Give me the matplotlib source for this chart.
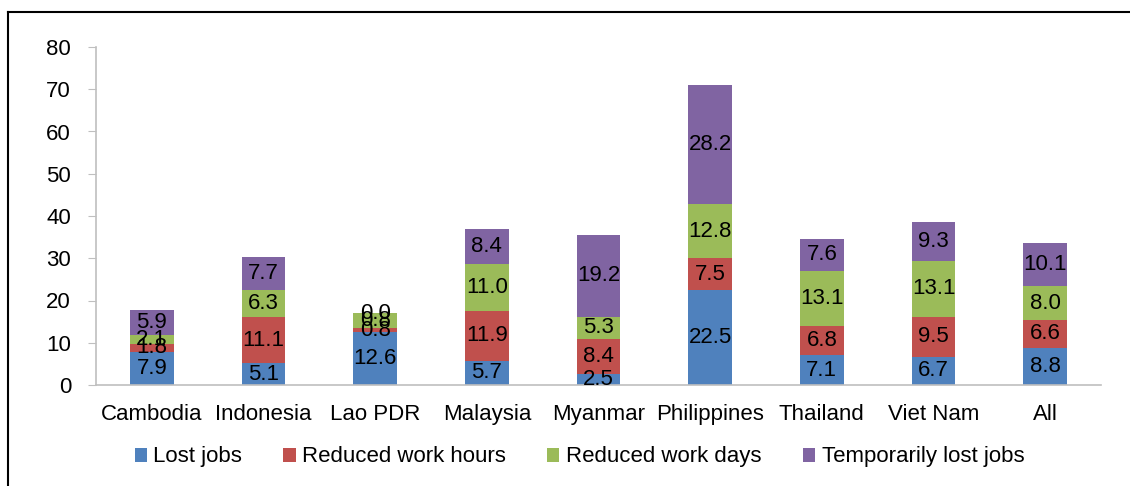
import numpy as np
import matplotlib.pyplot as plt
from matplotlib.lines import Line2D

plt.rcParams['font.family'] = ['Liberation Sans', 'DejaVu Sans']

countries = ['Cambodia', 'Indonesia', 'Lao PDR', 'Malaysia', 'Myanmar',
             'Philippines', 'Thailand', 'Viet Nam', 'All']
lost_jobs = [7.9, 5.1, 12.6, 5.7, 2.5, 22.5, 7.1, 6.7, 8.8]
reduced_hours = [1.8, 11.1, 0.8, 11.9, 8.4, 7.5, 6.8, 9.5, 6.6]
reduced_days = [2.1, 6.3, 3.6, 11.0, 5.3, 12.8, 13.1, 13.1, 8.0]
temp_lost = [5.9, 7.7, 0.0, 8.4, 19.2, 28.2, 7.6, 9.3, 10.1]
series_names = ['Lost jobs', 'Reduced work hours', 'Reduced work days',
                'Temporarily lost jobs']
# label text as printed on the chart (Lao PDR green label reads 0.8)
label_override = {(2, 2): '0.8'}

colors = ['#4F81BD', '#C0504D', '#9BBB59', '#8064A2']

fig = plt.figure(figsize=(11.3, 4.86), dpi=100)
ax = fig.add_axes([96/1130, 1 - 385/486, (1101-96)/1130, (385-47)/486])

x = np.arange(len(countries))
bottom = np.zeros(len(countries))
for si, (vals, name, c) in enumerate(zip([lost_jobs, reduced_hours, reduced_days, temp_lost],
                                       series_names, colors)):
    vals = np.array(vals)
    ax.bar(x, vals, width=0.39, bottom=bottom, color=c, label=name)
    for ci, v in enumerate(vals):
        txt = label_override.get((ci, si), f'{v:.1f}')
        ax.text(x[ci], bottom[ci] + v / 2, txt, ha='center', va='center',
                fontsize=16, color='black')
    bottom += vals

ax.set_xlim(-0.5, len(countries) - 0.5)
ax.set_ylim(0, 80)
ax.set_yticks(range(0, 81, 10))
ax.set_xticks(x)
ax.set_xticklabels(countries)
ax.tick_params(axis='y', labelsize=16, length=6, color='#BFBFBF', pad=12)
ax.tick_params(axis='x', labelsize=16, length=0, pad=14)
for s in ['top', 'right']:
    ax.spines[s].set_visible(False)
for s in ['left', 'bottom']:
    ax.spines[s].set_color('#BFBFBF')
    ax.spines[s].set_linewidth(1.2)

ax.legend(loc='center', bbox_to_anchor=(0.481, -0.213), ncol=4, frameon=False,
          fontsize=16, handlelength=0.55, handleheight=0.6, handletextpad=0.3,
          columnspacing=1.85)

# outer frame (top and left edges)
fig.add_artist(Line2D([8/1130, 1], [1 - 12/486, 1 - 12/486], color='black', lw=1.5))
fig.add_artist(Line2D([8/1130, 8/1130], [0, 1 - 12/486], color='black', lw=1.5))

plt.savefig('out.png')
